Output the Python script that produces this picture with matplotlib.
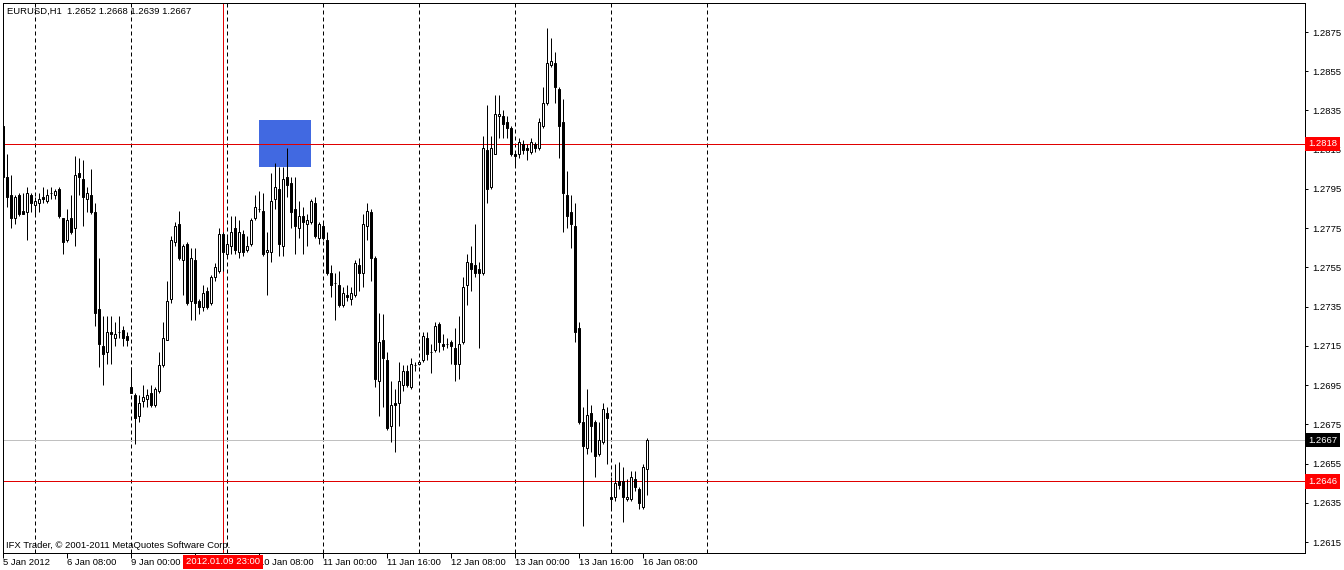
import matplotlib.pyplot as plt
import matplotlib.transforms as mtransforms
from matplotlib.patches import Rectangle

plt.rcParams['font.family'] = ['Liberation Sans', 'DejaVu Sans']

# EURUSD H1, 5 Jan 2012 16:00 .. 16 Jan 2012 09:00 (one entry per hourly bar)
opens = [
    1.2827, 1.2801, 1.2792, 1.2780, 1.2792, 1.2784, 1.2783, 1.2792, 1.2787, 1.2788,
    1.2791, 1.2789, 1.2793, 1.2792, 1.2795, 1.2780, 1.2769, 1.2780, 1.2775, 1.2803,
    1.2800, 1.2790, 1.2792, 1.2783, 1.2734, 1.2715, 1.2712, 1.2722, 1.2719, 1.2722,
    1.2723, 1.2720, 1.2694, 1.2690, 1.2679, 1.2687, 1.2688, 1.2691, 1.2685, 1.2692,
    1.2705, 1.2718, 1.2739, 1.2768, 1.2777, 1.2759, 1.2767, 1.2738, 1.2759, 1.2738,
    1.2735, 1.2743, 1.2737, 1.2750, 1.2753, 1.2772, 1.2762, 1.2766, 1.2775, 1.2763,
    1.2772, 1.2764, 1.2767, 1.2780, 1.2785, 1.2784, 1.2763, 1.2763, 1.2790, 1.2795,
    1.2766, 1.2801, 1.2798, 1.2785, 1.2775, 1.2781, 1.2777, 1.2778, 1.2788, 1.2770,
    1.2776, 1.2769, 1.2752, 1.2747, 1.2746, 1.2736, 1.2741, 1.2739, 1.2741, 1.2756,
    1.2752, 1.2776, 1.2783, 1.2760, 1.2697, 1.2718, 1.2708, 1.2674, 1.2686, 1.2686,
    1.2695, 1.2702, 1.2694, 1.2705, 1.2706, 1.2708, 1.2719, 1.2712, 1.2713, 1.2726,
    1.2716, 1.2716, 1.2717, 1.2714, 1.2706, 1.2717, 1.2746, 1.2757, 1.2756, 1.2754,
    1.2752, 1.2815, 1.2796, 1.2813, 1.2832, 1.2832, 1.2829, 1.2826, 1.2813, 1.2813,
    1.2818, 1.2816, 1.2814, 1.2818, 1.2816, 1.2827, 1.2839, 1.2858, 1.2859, 1.2846,
    1.2829, 1.2792, 1.2783, 1.2776, 1.2724, 1.2676, 1.2663, 1.2681, 1.2676, 1.2660,
    1.2666, 1.2681, 1.2638, 1.2638, 1.2646, 1.2646, 1.2637, 1.2637, 1.2647, 1.2642,
    1.2633, 1.2652,
]
highs = [
    1.2829, 1.2813, 1.2802, 1.2792, 1.2793, 1.2793, 1.2796, 1.2793, 1.2791, 1.2793,
    1.2796, 1.2795, 1.2796, 1.2795, 1.2796, 1.2780, 1.2785, 1.2792, 1.2812, 1.2811,
    1.2810, 1.2796, 1.2805, 1.2788, 1.2760, 1.2730, 1.2730, 1.2730, 1.2727, 1.2730,
    1.2725, 1.2722, 1.2704, 1.2691, 1.2690, 1.2695, 1.2693, 1.2695, 1.2694, 1.2712,
    1.2727, 1.2748, 1.2771, 1.2778, 1.2784, 1.2767, 1.2768, 1.2765, 1.2765, 1.2739,
    1.2746, 1.2745, 1.2751, 1.2757, 1.2775, 1.2773, 1.2771, 1.2781, 1.2781, 1.2779,
    1.2774, 1.2771, 1.2780, 1.2792, 1.2794, 1.2793, 1.2773, 1.2803, 1.2808, 1.2806,
    1.2806, 1.2816, 1.2801, 1.2801, 1.2789, 1.2786, 1.2782, 1.2790, 1.2791, 1.2778,
    1.2778, 1.2773, 1.2756, 1.2752, 1.2753, 1.2745, 1.2746, 1.2745, 1.2759, 1.2760,
    1.2782, 1.2788, 1.2785, 1.2761, 1.2732, 1.2731, 1.2712, 1.2697, 1.2693, 1.2707,
    1.2705, 1.2705, 1.2709, 1.2707, 1.2708, 1.2722, 1.2722, 1.2716, 1.2727, 1.2727,
    1.2721, 1.2719, 1.2718, 1.2724, 1.2730, 1.2750, 1.2762, 1.2766, 1.2777, 1.2758,
    1.2822, 1.2838, 1.2822, 1.2843, 1.2843, 1.2835, 1.2832, 1.2827, 1.2813, 1.2821,
    1.2820, 1.2818, 1.2821, 1.2819, 1.2831, 1.2847, 1.2877, 1.2872, 1.2865, 1.2847,
    1.2841, 1.2804, 1.2792, 1.2788, 1.2727, 1.2684, 1.2693, 1.2685, 1.2677, 1.2676,
    1.2686, 1.2684, 1.2648, 1.2655, 1.2656, 1.2653, 1.2647, 1.2651, 1.2651, 1.2643,
    1.2655, 1.2668,
]
lows = [
    1.2783, 1.2786, 1.2775, 1.2777, 1.2781, 1.2782, 1.2769, 1.2783, 1.2782, 1.2783,
    1.2788, 1.2788, 1.2790, 1.2790, 1.2780, 1.2762, 1.2768, 1.2772, 1.2766, 1.2792,
    1.2776, 1.2783, 1.2782, 1.2725, 1.2704, 1.2695, 1.2706, 1.2706, 1.2715, 1.2719,
    1.2715, 1.2715, 1.2691, 1.2665, 1.2676, 1.2684, 1.2684, 1.2684, 1.2684, 1.2691,
    1.2704, 1.2718, 1.2737, 1.2766, 1.2759, 1.2741, 1.2736, 1.2728, 1.2728, 1.2731,
    1.2733, 1.2734, 1.2736, 1.2748, 1.2752, 1.2753, 1.2761, 1.2762, 1.2762, 1.2760,
    1.2761, 1.2763, 1.2766, 1.2779, 1.2783, 1.2761, 1.2741, 1.2758, 1.2785, 1.2761,
    1.2761, 1.2791, 1.2775, 1.2762, 1.2770, 1.2762, 1.2766, 1.2777, 1.2770, 1.2767,
    1.2769, 1.2751, 1.2740, 1.2728, 1.2735, 1.2735, 1.2738, 1.2736, 1.2740, 1.2743,
    1.2745, 1.2769, 1.2748, 1.2694, 1.2679, 1.2684, 1.2672, 1.2666, 1.2661, 1.2674,
    1.2692, 1.2694, 1.2693, 1.2702, 1.2705, 1.2707, 1.2708, 1.2701, 1.2712, 1.2712,
    1.2713, 1.2714, 1.2706, 1.2697, 1.2698, 1.2716, 1.2736, 1.2743, 1.2750, 1.2714,
    1.2751, 1.2788, 1.2795, 1.2813, 1.2821, 1.2821, 1.2821, 1.2812, 1.2807, 1.2811,
    1.2813, 1.2810, 1.2813, 1.2814, 1.2815, 1.2826, 1.2838, 1.2857, 1.2839, 1.2811,
    1.2773, 1.2775, 1.2765, 1.2717, 1.2675, 1.2623, 1.2660, 1.2661, 1.2648, 1.2659,
    1.2665, 1.2655, 1.2632, 1.2636, 1.2642, 1.2625, 1.2636, 1.2636, 1.2641, 1.2632,
    1.2632, 1.2639,
]
closes = [
    1.2801, 1.2791, 1.2780, 1.2791, 1.2782, 1.2782, 1.2793, 1.2788, 1.2789, 1.2790,
    1.2790, 1.2792, 1.2793, 1.2794, 1.2781, 1.2768, 1.2779, 1.2773, 1.2802, 1.2801,
    1.2791, 1.2793, 1.2783, 1.2732, 1.2716, 1.2711, 1.2722, 1.2721, 1.2721, 1.2722,
    1.2719, 1.2718, 1.2691, 1.2678, 1.2686, 1.2689, 1.2690, 1.2685, 1.2693, 1.2705,
    1.2719, 1.2738, 1.2769, 1.2776, 1.2760, 1.2766, 1.2737, 1.2760, 1.2737, 1.2735,
    1.2742, 1.2735, 1.2750, 1.2755, 1.2772, 1.2763, 1.2767, 1.2773, 1.2764, 1.2773,
    1.2763, 1.2766, 1.2779, 1.2786, 1.2785, 1.2762, 1.2764, 1.2789, 1.2796, 1.2767,
    1.2800, 1.2797, 1.2783, 1.2776, 1.2781, 1.2778, 1.2779, 1.2789, 1.2771, 1.2777,
    1.2770, 1.2752, 1.2746, 1.2747, 1.2736, 1.2742, 1.2740, 1.2742, 1.2757, 1.2752,
    1.2777, 1.2784, 1.2760, 1.2698, 1.2717, 1.2709, 1.2673, 1.2685, 1.2685, 1.2697,
    1.2702, 1.2695, 1.2706, 1.2705, 1.2707, 1.2720, 1.2711, 1.2712, 1.2725, 1.2717,
    1.2715, 1.2716, 1.2715, 1.2706, 1.2716, 1.2745, 1.2758, 1.2754, 1.2752, 1.2752,
    1.2816, 1.2795, 1.2816, 1.2833, 1.2833, 1.2828, 1.2826, 1.2813, 1.2812, 1.2819,
    1.2815, 1.2815, 1.2819, 1.2816, 1.2829, 1.2839, 1.2859, 1.2860, 1.2847, 1.2827,
    1.2793, 1.2781, 1.2777, 1.2722, 1.2676, 1.2664, 1.2680, 1.2674, 1.2659, 1.2667,
    1.2683, 1.2678, 1.2637, 1.2645, 1.2644, 1.2638, 1.2638, 1.2648, 1.2643, 1.2635,
    1.2653, 1.2667,
]

# time axis: ticks every 16 bars (the 9 Jan 16:00 label sits under the cursor date box)
tick_bars = [0, 16, 32, 48, 64, 80, 96, 112, 128, 144, 160]
tick_texts = ['5 Jan 2012', '6 Jan 08:00', '9 Jan 00:00', '', '10 Jan 08:00',
              '11 Jan 00:00', '11 Jan 16:00', '12 Jan 08:00', '13 Jan 00:00',
              '13 Jan 16:00', '16 Jan 08:00']
day_bars = [8, 32, 56, 80, 104, 128, 152, 176]
price_ticks = [1.2615, 1.2635, 1.2655, 1.2675, 1.2695, 1.2715, 1.2735,
               1.2755, 1.2775, 1.2795, 1.2815, 1.2835, 1.2855, 1.2875]

# drawn objects
hlines_red = [1.2818, 1.2646]
bid = 1.2667
cross_bar = 55
cross_label = '2012.01.09 23:00'
rect_bars = (64, 77)
rect_prices = (1.2806, 1.2830)

W, H = 1344, 570
fig = plt.figure(figsize=(W / 100, H / 100), dpi=100)
ax = fig.add_axes([3 / W, 17 / H, 1302 / W, 550 / H])
px = 0.72  # one pixel in points

ax.set_xlim(0, 1302 / 4)
ax.set_ylim(1.26094, 1.28898)

# rectangle object (behind the candles)
ax.add_patch(Rectangle((rect_bars[0], rect_prices[0]), rect_bars[1] - rect_bars[0],
                       rect_prices[1] - rect_prices[0], facecolor='#4169E1',
                       edgecolor='none', zorder=1))

# period separators
for b in day_bars:
    ax.axvline(b, color='black', lw=px, dashes=(4, 3), zorder=1.5)

# horizontal lines / bid line / crosshair
for lv in hlines_red:
    ax.axhline(lv, color='#e00000', lw=px, zorder=1.6)
ax.axhline(bid, color='#c0c0c0', lw=px, zorder=1.6)
ax.axvline(cross_bar, color='#e00000', lw=px, zorder=1.6)

# candles
xs = list(range(len(opens)))
ax.vlines(xs, lows, highs, color='black', lw=px, zorder=3)
for i in xs:
    o, c = opens[i], closes[i]
    fc = 'white' if c >= o else 'black'
    ax.bar(i, abs(c - o), bottom=min(o, c), width=0.55, color=fc,
           edgecolor='black', linewidth=px, zorder=4)

for s in ax.spines.values():
    s.set_linewidth(px)
    s.set_color('black')

ax.yaxis.tick_right()
ax.set_yticks(price_ticks)
ax.set_yticklabels([f'{p:.4f}' for p in price_ticks])
ax.tick_params(axis='y', direction='out', length=2.2, width=px, pad=2.8,
               labelsize=6.8, colors='black')
ax.set_xticks(tick_bars)
ax.set_xticklabels(tick_texts, ha='left')
ax.tick_params(axis='x', direction='out', length=3.6, width=px, pad=0.3,
               labelsize=6.8, colors='black')

bt = mtransforms.blended_transform_factory(ax.transAxes, ax.transData)
for lv, col in [(hlines_red[0], '#ff0000'), (bid, 'black'), (hlines_red[1], '#ff0000')]:
    ax.text(1.0025, lv, f'{lv:.4f}', transform=bt, ha='left', va='center',
            fontsize=6.8, color='white', clip_on=False, zorder=10,
            bbox=dict(boxstyle='square,pad=0.3', fc=col, ec='none'))

bx = mtransforms.blended_transform_factory(ax.transData, ax.transAxes)
ax.text(cross_bar, -9 / 550, cross_label, transform=bx, ha='center', va='center',
        fontsize=6.8, color='white', clip_on=False, zorder=10,
        bbox=dict(boxstyle='square,pad=0.3', fc='#ff0000', ec='none'))

ax.text(4 / 1302, 1 - 8 / 550, 'EURUSD,H1  1.2652 1.2668 1.2639 1.2667',
        transform=ax.transAxes, ha='left', va='center', fontsize=6.8, color='black')
ax.text(3 / 1302, 8 / 550, 'IFX Trader, \u00a9 2001-2011 MetaQuotes Software Corp.',
        transform=ax.transAxes, ha='left', va='center', fontsize=6.8, color='black')

fig.savefig('out.png', dpi=100, facecolor='white')
